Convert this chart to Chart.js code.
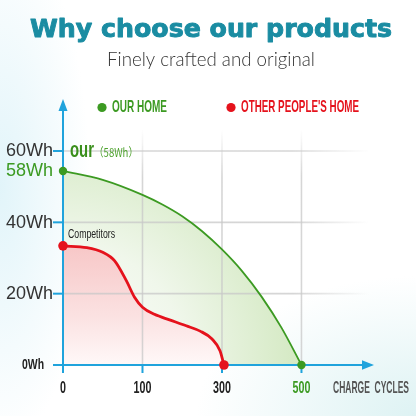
<!DOCTYPE html>
<html>
<head>
<meta charset="utf-8">
<script src="https://cdn.jsdelivr.net/npm/chart.js@4/dist/chart.umd.min.js"></script>
<style>
  html, body { margin: 0; padding: 0; }
  body {
    width: 416px; height: 416px; overflow: hidden;
    background:
      radial-gradient(ellipse 90px 260px at 0% 45%, rgba(222,243,249,0.9) 0%, rgba(255,255,255,0) 100%),
      radial-gradient(ellipse 220px 140px at 100% 100%, rgba(218,241,242,0.9) 0%, rgba(255,255,255,0) 100%),
      #ffffff;
  }
  canvas { display: block; }
</style>
</head>
<body>
<canvas id="c" width="416" height="416"></canvas>
<script>
// ---- data ----
const titleText = 'Why choose our products';
const subtitleText = 'Finely crafted and original';
const cycleTicks = [0, 100, 300, 500];
const cycleTickLabels = ['0', '100', '300', '500'];
const whTicks = [0, 20, 40, 60];
const whTickLabels = ['0Wh', '20Wh', '40Wh', '60Wh'];
const xAxisTitle = 'CHARGE  CYCLES';
const ourLabel = 'OUR HOME';
const otherLabel = "OTHER PEOPLE'S HOME";
const ourCapacityLabel = '58Wh';
const ourTag = 'our';
const ourTagNote = '（58Wh）';
const otherTag = 'Competitors';
const ourCycles = [0, 50, 100, 150, 200, 250, 300, 350, 400, 450, 500];
const ourWh = [54.4, 51.9, 47.7, 45.0, 41.7, 37.5, 32.4, 26.4, 19.1, 10.4, 0];
const otherCycles = [0, 30, 50, 65, 80, 90, 100, 130, 170, 210, 245, 275, 295, 305];
const otherWh = [33.4, 32.9, 31.6, 29.2, 23.5, 19.0, 16.2, 14.2, 12.6, 11.0, 9.5, 7.3, 4.0, 0];

// axis is drawn with equally spaced cycle ticks: map cycles onto tick-index space
function cyclePos(c) {
  for (let i = 0; i < cycleTicks.length - 1; i++) {
    if (c <= cycleTicks[i + 1]) {
      return i + (c - cycleTicks[i]) / (cycleTicks[i + 1] - cycleTicks[i]);
    }
  }
  return cycleTicks.length - 1;
}
const toPoints = (xs, ys) => xs.map((c, i) => ({ x: cyclePos(c), y: ys[i] }));

const GREEN = '#3c9a22';
const RED = '#e5121c';
const AXIS = '#20a3dc';

function drawText(ctx, str, x, y, o) {
  ctx.save();
  ctx.font = o.font;
  ctx.fillStyle = o.color;
  ctx.textBaseline = o.baseline || 'middle';
  ctx.textAlign = 'left';
  const w = ctx.measureText(str).width;
  const sx = o.width ? o.width / w : (o.sx || 1);
  const tw = w * sx;
  let left = x;
  if (o.align === 'center') left = x - tw / 2;
  else if (o.align === 'right') left = x - tw;
  ctx.translate(left, y);
  ctx.scale(sx, 1);
  if (o.stroke) {
    ctx.strokeStyle = o.color;
    ctx.lineWidth = o.stroke;
    ctx.lineJoin = 'round';
    ctx.strokeText(str, 0, 0);
  }
  ctx.fillText(str, 0, 0);
  ctx.restore();
}

const decor = {
  id: 'decor',
  beforeDatasetsDraw(chart) {
    const ctx = chart.ctx;
    const xs = chart.scales.x, ys = chart.scales.y;
    const x0 = xs.getPixelForValue(0), y0 = ys.getPixelForValue(0);
    const xEnd = xs.getPixelForValue(3.85);
    const yTop = ys.getPixelForValue(66);
    ctx.save();
    ctx.lineWidth = 1.6;
    // horizontal grid
    whTicks.forEach(v => {
      if (v === 0) return;
      const y = ys.getPixelForValue(v);
      const g = ctx.createLinearGradient(x0, 0, xEnd, 0);
      g.addColorStop(0, 'rgba(200,200,200,0.75)');
      g.addColorStop(0.75, 'rgba(200,200,200,0.75)');
      g.addColorStop(1, 'rgba(200,200,200,0)');
      ctx.strokeStyle = g;
      ctx.beginPath(); ctx.moveTo(x0, y); ctx.lineTo(xEnd, y); ctx.stroke();
    });
    // vertical grid
    cycleTicks.forEach(c => {
      if (c === 0) return;
      const x = xs.getPixelForValue(cyclePos(c));
      const g = ctx.createLinearGradient(0, y0, 0, yTop);
      g.addColorStop(0, 'rgba(200,200,200,0.75)');
      g.addColorStop(0.8, 'rgba(200,200,200,0.75)');
      g.addColorStop(1, 'rgba(200,200,200,0)');
      ctx.strokeStyle = g;
      ctx.beginPath(); ctx.moveTo(x, y0); ctx.lineTo(x, yTop); ctx.stroke();
    });
    // axes
    ctx.strokeStyle = AXIS;
    ctx.fillStyle = AXIS;
    ctx.lineWidth = 2;
    const tipY = chart.chartArea.top - 1;
    const tipX = chart.chartArea.right + 1;
    ctx.beginPath(); ctx.moveTo(x0, y0 + 8); ctx.lineTo(x0, tipY + 8); ctx.stroke();
    ctx.beginPath(); ctx.moveTo(x0 - 10, y0); ctx.lineTo(tipX - 8, y0); ctx.stroke();
    ctx.beginPath(); ctx.moveTo(x0, tipY); ctx.lineTo(x0 + 4.5, tipY + 12); ctx.lineTo(x0 - 4.5, tipY + 12); ctx.closePath(); ctx.fill();
    ctx.beginPath(); ctx.moveTo(tipX, y0); ctx.lineTo(tipX - 12, y0 - 4.8); ctx.lineTo(tipX - 12, y0 + 4.8); ctx.closePath(); ctx.fill();
    // ticks
    whTicks.forEach(v => {
      const y = ys.getPixelForValue(v);
      ctx.beginPath(); ctx.moveTo(x0 - 10, y); ctx.lineTo(x0, y); ctx.stroke();
    });
    cycleTicks.forEach(c => {
      const x = xs.getPixelForValue(cyclePos(c));
      ctx.beginPath(); ctx.moveTo(x, y0); ctx.lineTo(x, y0 + 8); ctx.stroke();
    });
    ctx.restore();
  },
  afterDatasetsDraw(chart) {
    const ctx = chart.ctx;
    const xs = chart.scales.x, ys = chart.scales.y;
    const x0 = xs.getPixelForValue(0), y0 = ys.getPixelForValue(0);
    // title
    drawText(ctx, titleText, 211, 36.5, { font: 'bold 24px "DejaVu Sans"', color: '#1a8ca2', align: 'center', width: 362, baseline: 'alphabetic', stroke: 0.9 });
    drawText(ctx, subtitleText, 211, 66, { font: '300 19px Lato, "Open Sans", sans-serif', color: '#333333', align: 'center', width: 208, baseline: 'alphabetic' });
    // y tick labels
    whTicks.forEach((v, i) => {
      const y = ys.getPixelForValue(v);
      if (v === 0) {
        drawText(ctx, whTickLabels[i], x0 - 19, y, { font: 'bold 15px "Liberation Sans"', color: '#222222', align: 'right', width: 22 });
      } else {
        drawText(ctx, whTickLabels[i], x0 - 10, y + 0.5, { font: '18px "Liberation Sans"', color: '#333333', align: 'right' });
      }
    });
    // 58Wh label at our starting capacity
    drawText(ctx, ourCapacityLabel, x0 - 10, ys.getPixelForValue(ourWh[0]), { font: '18px "Liberation Sans"', color: GREEN, align: 'right' });
    // x tick labels
    cycleTicks.forEach((c, i) => {
      const x = xs.getPixelForValue(cyclePos(c));
      const col = c === cycleTicks[cycleTicks.length - 1] ? GREEN : '#222222';
      drawText(ctx, cycleTickLabels[i], x, y0 + 23, { font: 'bold 17px "Liberation Sans"', color: col, align: 'center', sx: 0.63 });
    });
    drawText(ctx, xAxisTitle, 333, y0 + 23, { font: 'bold 17px "Liberation Sans"', color: '#555555', align: 'left', width: 76 });
    // legend from datasets
    const legendX = [102, 231];
    chart.data.datasets.forEach((ds, i) => {
      const lx = legendX[i];
      ctx.save();
      ctx.fillStyle = ds.borderColor;
      ctx.beginPath(); ctx.arc(lx, 107.5, 4.6, 0, Math.PI * 2); ctx.fill();
      ctx.restore();
      drawText(ctx, ds.label, lx + 10, 107.5, { font: 'bold 17px "Liberation Sans"', color: ds.borderColor, align: 'left', width: i === 0 ? 55 : 118 });
    });
    // annotations
    drawText(ctx, ourTag, x0 + 7, 156.5, { font: 'bold 22px "Liberation Sans"', color: '#3a8f1c', align: 'left', width: 24, baseline: 'alphabetic' });
    drawText(ctx, ourTagNote, x0 + 31, 156.5, { font: '12px "Noto Sans CJK SC", "Liberation Sans"', color: '#4ea22e', align: 'left', width: 44, baseline: 'alphabetic' });
    drawText(ctx, otherTag, x0 + 5, ys.getPixelForValue(otherWh[0]) - 11, { font: '13px "Liberation Sans"', color: '#222222', align: 'left', width: 47 });
  }
};

const endPointRadius = r => ctx => (ctx.dataIndex === 0 || ctx.dataIndex === ctx.dataset.data.length - 1) ? r : 0;

new Chart(document.getElementById('c'), {
  type: 'line',
  data: {
    datasets: [
      {
        label: ourLabel,
        data: toPoints(ourCycles, ourWh),
        borderColor: GREEN,
        borderWidth: 1.8,
        pointBackgroundColor: GREEN,
        pointBorderWidth: 0,
        pointRadius: endPointRadius(4.2),
        cubicInterpolationMode: 'monotone',
        fill: 'origin',
        clip: false,
        order: 1,
        backgroundColor: (c) => {
          const chart = c.chart;
          if (!chart.chartArea) return 'rgba(215,235,200,1)';
          const x0 = chart.scales.x.getPixelForValue(0), y0 = chart.scales.y.getPixelForValue(0);
          const g = chart.ctx.createRadialGradient(x0, y0, 0, x0, y0, 245);
          g.addColorStop(0, '#ffffff');
          g.addColorStop(0.5, '#f0f7eb');
          g.addColorStop(1, '#d2e8c0');
          return g;
        }
      },
      {
        label: otherLabel,
        data: toPoints(otherCycles, otherWh),
        borderColor: RED,
        borderWidth: 2.8,
        pointBackgroundColor: RED,
        pointBorderWidth: 0,
        pointRadius: endPointRadius(4.8),
        cubicInterpolationMode: 'monotone',
        fill: 'origin',
        clip: false,
        order: 0,
        backgroundColor: (c) => {
          const chart = c.chart;
          if (!chart.chartArea) return 'rgba(248,210,210,1)';
          const yT = chart.scales.y.getPixelForValue(otherWh[0]), y0 = chart.scales.y.getPixelForValue(0);
          const g = chart.ctx.createLinearGradient(0, yT, 0, y0);
          g.addColorStop(0, '#f7c7c7');
          g.addColorStop(0.6, '#fbe2e2');
          g.addColorStop(1, '#fff8f8');
          return g;
        }
      }
    ]
  },
  options: {
    responsive: false,
    animation: false,
    devicePixelRatio: 1,
    layout: { padding: { left: 63, right: 43, top: 100, bottom: 51 } },
    scales: {
      x: { type: 'linear', min: 0, max: 3.9, display: false },
      y: { type: 'linear', min: 0, max: 74.3, display: false }
    },
    plugins: {
      legend: { display: false },
      tooltip: { enabled: false },
      filler: { drawTime: 'beforeDatasetsDraw' }
    }
  },
  plugins: [decor]
});
</script>
</body>
</html>
